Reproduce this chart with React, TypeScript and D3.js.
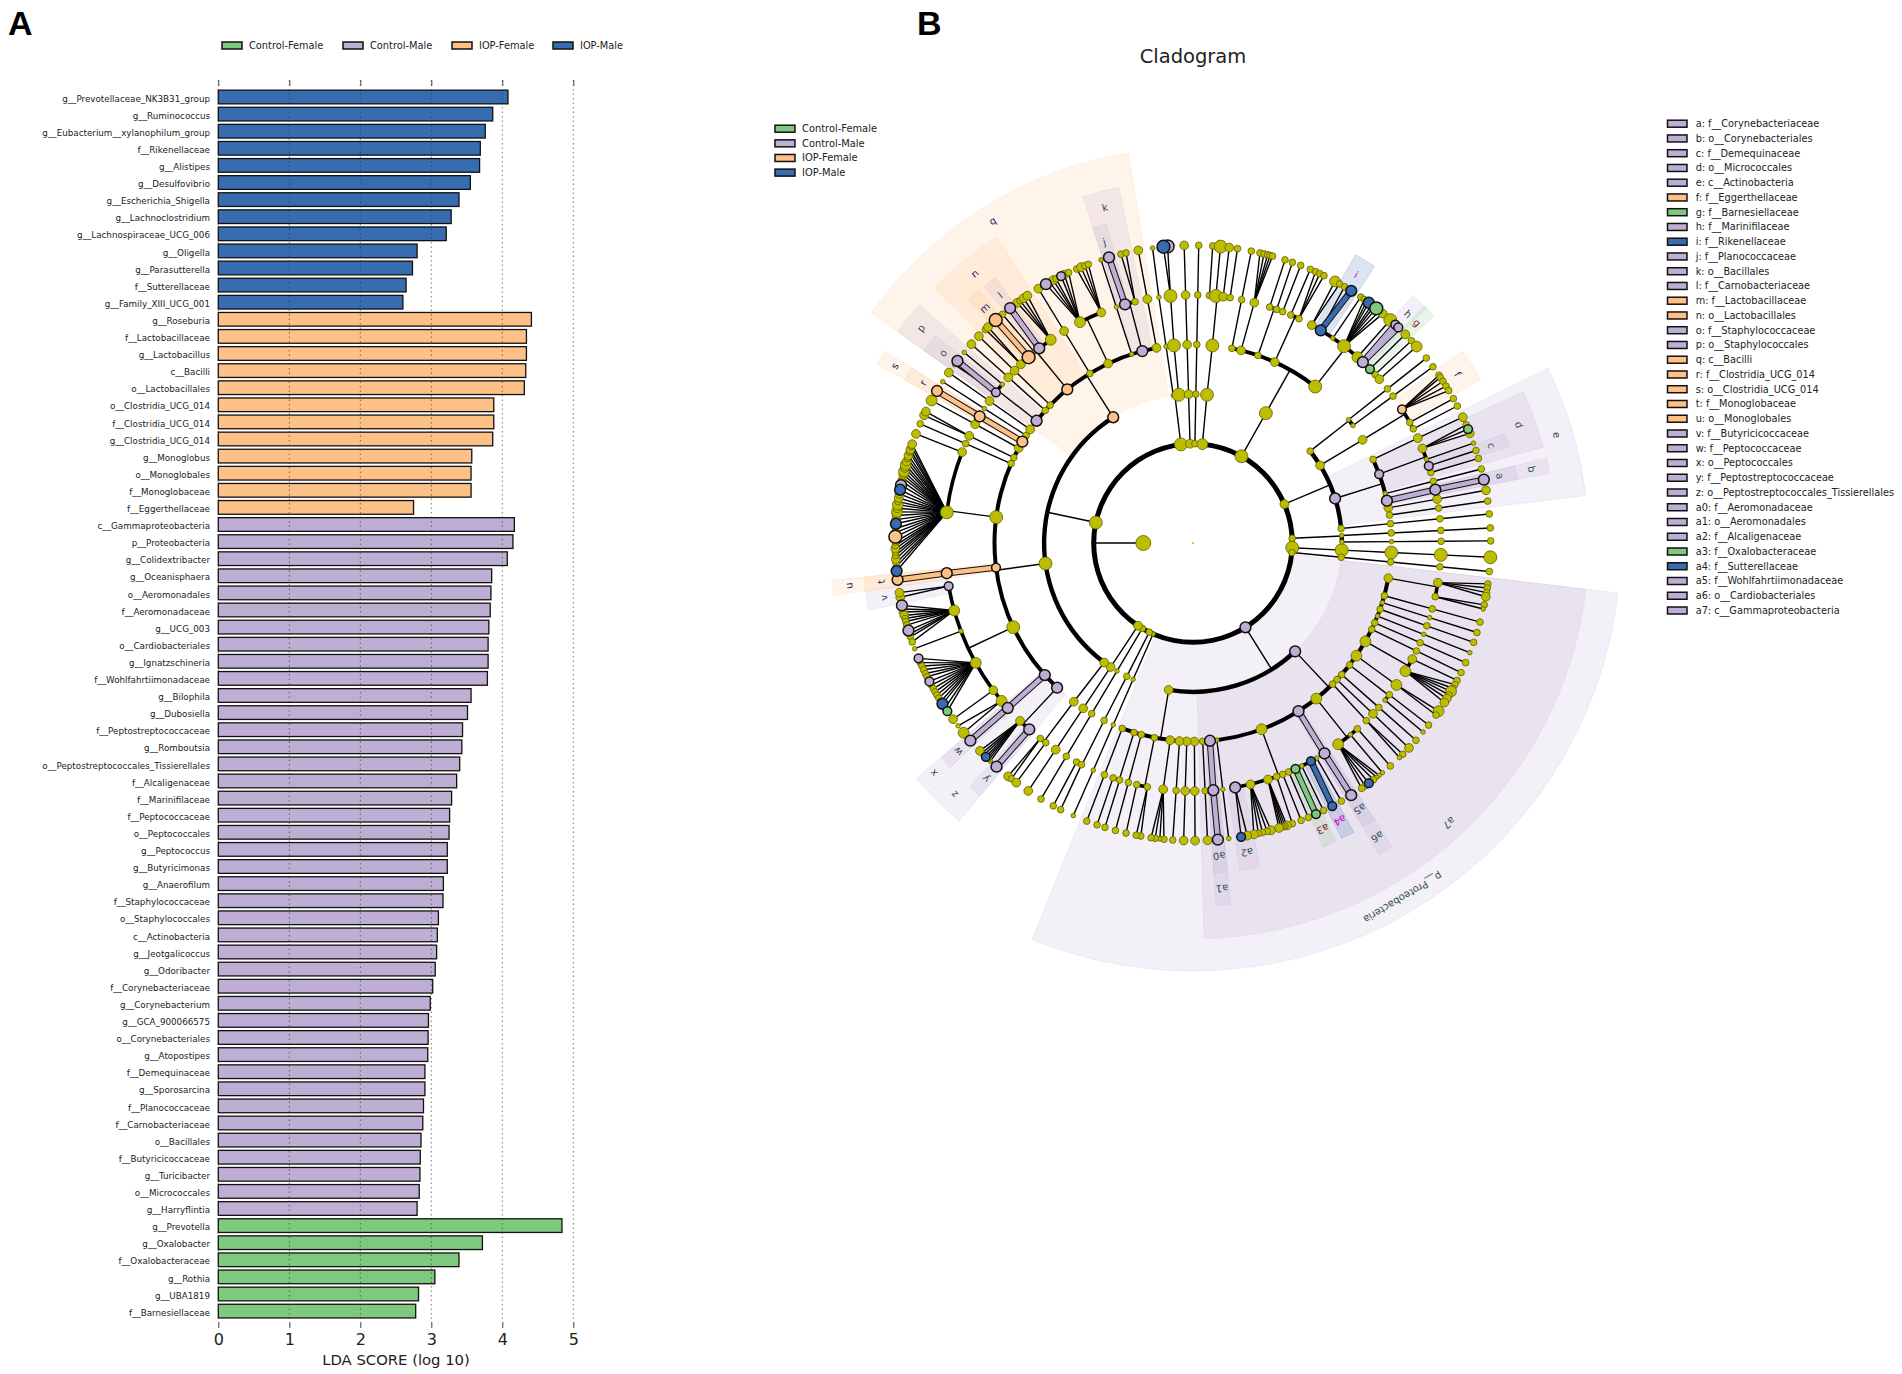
import { useEffect, useRef } from 'react';
import * as d3 from 'd3';

type Group = 'CF' | 'CM' | 'IF' | 'IM';
interface Clade { angle: number; size: number; kids?: Clade[]; mark?: Group; label?: string }

const groupNames: Record<Group, string> = { CF: 'Control-Female', CM: 'Control-Male', IF: 'IOP-Female', IM: 'IOP-Male' };
const groupColors: Record<Group, string> = { CF: '#7fc97f', CM: '#beaed4', IF: '#fdc086', IM: '#386cb0' };
const labelColors: Record<Group, string> = { CF: '#8b1a1a', CM: '#2f4f4f', IF: '#191970', IM: '#cc00cc' };
const legendOrder: Group[] = ['CF', 'CM', 'IF', 'IM'];

const iopMaleNames = ['g__Prevotellaceae_NK3B31_group', 'g__Ruminococcus', 'g__Eubacterium__xylanophilum_group', 'f__Rikenellaceae', 'g__Alistipes', 'g__Desulfovibrio', 'g__Escherichia_Shigella', 'g__Lachnoclostridium', 'g__Lachnospiraceae_UCG_006', 'g__Oligella', 'g__Parasutterella', 'f__Sutterellaceae', 'g__Family_XIII_UCG_001'];
const iopMaleScores = [4.08, 3.865, 3.76, 3.69, 3.68, 3.55, 3.39, 3.28, 3.21, 2.8, 2.735, 2.645, 2.6];
const iopFemaleNames = ['g__Roseburia', 'f__Lactobacillaceae', 'g__Lactobacillus', 'c__Bacilli', 'o__Lactobacillales', 'o__Clostridia_UCG_014', 'f__Clostridia_UCG_014', 'g__Clostridia_UCG_014', 'g__Monoglobus', 'o__Monoglobales', 'f__Monoglobaceae', 'f__Eggerthellaceae'];
const iopFemaleScores = [4.41, 4.34, 4.34, 4.33, 4.31, 3.88, 3.88, 3.865, 3.57, 3.56, 3.56, 2.75];
const controlMaleNames = ['c__Gammaproteobacteria', 'p__Proteobacteria', 'g__Colidextribacter', 'g__Oceanisphaera', 'o__Aeromonadales', 'f__Aeromonadaceae', 'g__UCG_003', 'o__Cardiobacteriales', 'g__Ignatzschineria', 'f__Wohlfahrtiimonadaceae', 'g__Bilophila', 'g__Dubosiella', 'f__Peptostreptococcaceae', 'g__Romboutsia', 'o__Peptostreptococcales_Tissierellales', 'f__Alcaligenaceae', 'f__Marinifilaceae', 'f__Peptococcaceae', 'o__Peptococcales', 'g__Peptococcus', 'g__Butyricimonas', 'g__Anaerofilum', 'f__Staphylococcaceae', 'o__Staphylococcales', 'c__Actinobacteria', 'g__Jeotgalicoccus', 'g__Odoribacter', 'f__Corynebacteriaceae', 'g__Corynebacterium', 'g__GCA_900066575', 'o__Corynebacteriales', 'g__Atopostipes', 'f__Demequinaceae', 'g__Sporosarcina', 'f__Planococcaceae', 'f__Carnobacteriaceae', 'o__Bacillales', 'f__Butyricicoccaceae', 'g__Turicibacter', 'o__Micrococcales', 'g__Harryflintia'];
const controlMaleScores = [4.17, 4.15, 4.07, 3.85, 3.84, 3.83, 3.81, 3.8, 3.8, 3.79, 3.56, 3.51, 3.44, 3.43, 3.4, 3.357, 3.286, 3.258, 3.25, 3.225, 3.225, 3.17, 3.165, 3.1, 3.085, 3.075, 3.055, 3.02, 2.985, 2.96, 2.955, 2.95, 2.91, 2.91, 2.89, 2.88, 2.855, 2.845, 2.84, 2.83, 2.8];
const controlFemaleNames = ['g__Prevotella', 'g__Oxalobacter', 'f__Oxalobacteraceae', 'g__Rothia', 'g__UBA1819', 'f__Barnesiellaceae'];
const controlFemaleScores = [4.84, 3.72, 3.39, 3.05, 2.82, 2.78];
const ldaTicks = [0, 1, 2, 3, 4, 5];

const cladeKey = ['a: f__Corynebacteriaceae', 'b: o__Corynebacteriales', 'c: f__Demequinaceae', 'd: o__Micrococcales', 'e: c__Actinobacteria', 'f: f__Eggerthellaceae', 'g: f__Barnesiellaceae', 'h: f__Marinifilaceae', 'i: f__Rikenellaceae', 'j: f__Planococcaceae', 'k: o__Bacillales', 'l: f__Carnobacteriaceae', 'm: f__Lactobacillaceae', 'n: o__Lactobacillales', 'o: f__Staphylococcaceae', 'p: o__Staphylococcales', 'q: c__Bacilli', 'r: f__Clostridia_UCG_014', 's: o__Clostridia_UCG_014', 't: f__Monoglobaceae', 'u: o__Monoglobales', 'v: f__Butyricicoccaceae', 'w: f__Peptococcaceae', 'x: o__Peptococcales', 'y: f__Peptostreptococcaceae', 'z: o__Peptostreptococcales_Tissierellales', 'a0: f__Aeromonadaceae', 'a1: o__Aeromonadales', 'a2: f__Alcaligenaceae', 'a3: f__Oxalobacteraceae', 'a4: f__Sutterellaceae', 'a5: f__Wohlfahrtiimonadaceae', 'a6: o__Cardiobacteriales', 'a7: c__Gammaproteobacteria'];
const cladeKeyGroups: Group[] = ['CM', 'CM', 'CM', 'CM', 'CM', 'IF', 'CF', 'CM', 'IM', 'CM', 'CM', 'CM', 'IF', 'IF', 'CM', 'CM', 'IF', 'IF', 'IF', 'IF', 'IF', 'CM', 'CM', 'CM', 'CM', 'CM', 'CM', 'CM', 'CM', 'CF', 'IM', 'CM', 'CM', 'CM'];

// angle is in degrees clockwise from east, size is an abundance class 1-5
const n = (angle: number, size: number, kids?: Clade[], mark?: Group, label?: string): Clade => ({ angle, size, kids, mark, label });
// one lineage running straight out to the genus ring
const chain = (angle: number, sizes: number[]): Clade =>
  n(angle, sizes[0], sizes.length > 1 ? [chain(angle, sizes.slice(1))] : undefined);

const gammaOrders = [
  n(10.2, 3, [n(9.2, 3, [n(7.9, 2), n(8.7, 2), n(9.6, 2), n(10.4, 3)]), n(12.5, 2, [n(12, 2), n(12.8, 1)])]),
  chain(15.4, [2, 2, 2]), chain(17.5, [1, 1, 2]), chain(19.5, [2, 2, 2]), chain(21.6, [1, 1, 1]),
  chain(23.7, [2, 2, 2]), chain(25.8, [2, 2, 2]),
  n(29.7, 4, [n(27.9, 3, [n(27.5, 2)]), n(31.1, 4, [n(28.4, 2), n(29.2, 2), n(29.9, 4), n(30.7, 2), n(31.5, 3), n(32.4, 3)])]),
  n(34.6, 4, [n(34.9, 4, [n(34.4, 4), n(35.3, 2)])]),
  n(37.9, 2, [n(37.7, 2, [n(37.7, 2)]), n(39.3, 1, [n(39.4, 1)])]),
  chain(41.5, [2, 2, 2]), chain(43.5, [2, 3, 3]),
  n(45.3, 2, [n(45.7, 2, [n(45.2, 2), n(46.1, 1)])]),
  n(51.6, 4, [chain(48.5, [2, 2]), n(50.6, 1, [n(50.5, 1)]), n(54.2, 4, [n(51.3, 1), n(51.9, 1), n(52.7, 2), n(53.8, 3, undefined, 'IM'), n(54.7, 2), n(55.5, 2)])]),
  n(57.9, 4, [n(58, 4, [n(57.9, 4, undefined, 'CM')], 'CM', 'a5')], 'CM', 'a6'),
  n(69.8, 4, [
    n(60.1, 1, [n(60.1, 2)]),
    n(61.6, 3, [n(62.1, 3, undefined, 'IM')], 'IM', 'a4'),
    n(64, 1, [n(64, 2)]),
    n(65.6, 3, [n(65.6, 3, undefined, 'CF')], 'CF', 'a3'),
    n(67.3, 2, [n(67.2, 2)]),
    n(68.8, 2, [n(68.7, 2)]),
    n(70.3, 2, [n(70.5, 2)]),
    n(72.4, 3, [n(71.6, 3), n(72, 2), n(72.4, 2), n(72.8, 2), n(73.2, 3)]),
    n(76.6, 3, [n(74.8, 3), n(75.6, 2), n(76.5, 2), n(77.3, 2), n(78.2, 3)]),
    n(80.2, 4, [n(79.5, 3), n(80.7, 3, undefined, 'IM')], 'CM', 'a2'),
  ]),
  chain(83.1, [1, 1, 1]),
  n(85.1, 4, [n(85.3, 4, [n(85.2, 4, undefined, 'CM')], 'CM', 'a0')], 'CM', 'a1'),
  chain(87.2, [2, 2, 3]),
];

const secondProteoOrders = [
  chain(89.6, [3, 3, 3]), chain(91.8, [3, 3, 3]), chain(93.9, [3, 2, 2]),
  n(96.6, 3, [n(96.9, 3, [n(95.6, 2), n(96.4, 1), n(97.3, 2), n(98.1, 2)])]),
  n(101.2, 2, [n(100.6, 2, [n(100.1, 2), n(101, 2)]), n(103.1, 2, [n(103, 2)])]),
  chain(105.1, [2, 2, 2]),
  n(107.3, 2, [n(107.2, 2, [n(107.2, 2)]), n(108.8, 2, [n(108.8, 2)])]),
  chain(110.9, [2, 2, 2]),
];

const proteobacteria = n(58.1, 4, [n(46.7, 4, gammaOrders, 'CM', 'a7'), n(99.4, 3, secondProteoOrders)], 'CM', 'p__Proteobacteria');

const smallPhyla = [
  chain(113.7, [1, 1, 1, 1, 1]),
  n(116.1, 2, [n(116.4, 2, [n(116.6, 2, [n(118, 2, [n(118, 2)]), n(116.7, 2, [n(116.4, 2)])])])]),
  chain(120.7, [2, 1, 2, 2, 2]),
  chain(123.6, [3, 3, 3, 3, 3]),
];

const fanLeaves = [
  n(174.6, 4, undefined, 'IM'), n(175.4, 2), n(176.1, 2), n(176.9, 3), n(177.6, 2), n(178.2, 2), n(178.9, 3), n(179.5, 2), n(180.2, 2),
  n(181.2, 5, undefined, 'IF'), n(182, 3), n(182.8, 2), n(183.7, 4, undefined, 'IM'), n(184.5, 3), n(185.3, 3), n(186, 4), n(186.7, 3), n(187.4, 4),
  n(188, 2), n(188.7, 3), n(189.5, 3), n(191.2, 4, undefined, 'CM'), n(190.3, 4, undefined, 'IM'), n(192, 3), n(192.7, 2), n(193.3, 3), n(193.9, 4), n(194.6, 3),
  n(195.2, 4), n(195.9, 3), n(196.5, 2), n(197.1, 3), n(197.8, 2), n(198.3, 3), n(198.9, 2), n(199.4, 3),
];

const clostridiaFamilies = [
  n(140.5, 4, [n(140.4, 4), n(142.1, 1)]),
  n(143.6, 3, [n(143.7, 3)]),
  n(151.1, 4, [
    n(157.2, 3, undefined, 'CM'), n(156.3, 2), n(155.6, 2), n(154.8, 2), n(154, 2), n(153.3, 2), n(152.3, 3, undefined, 'CM'), n(151.5, 2),
    n(150.7, 2), n(150, 2), n(149.3, 2), n(148.6, 2), n(147.9, 2), n(147.3, 4, undefined, 'IM'), n(146.4, 2), n(145.6, 3, undefined, 'CF'),
  ]),
  n(159.2, 1, [n(159.2, 1)]),
  n(164.2, 4, [n(167.9, 4, undefined, 'CM'), n(167.2, 2), n(166.6, 3), n(165.9, 3), n(165.3, 2), n(164.7, 2), n(164, 2), n(162.9, 4, undefined, 'CM'), n(162.2, 2), n(161.6, 2), n(160.6, 2)]),
  n(170, 3, [n(169.5, 3), n(170.4, 3)], 'CM', 'v'),
];

const firmicutesOrders = [
  n(133.2, 4, [
    n(131.3, 4, [n(131.3, 4, undefined, 'CM')], 'CM', 'y'),
    n(134.2, 3, [n(132.9, 1), n(133.3, 1), n(133.7, 1), n(134.1, 3, undefined, 'IM'), n(134.6, 1), n(135.1, 1), n(135.7, 3)]),
  ], 'CM', 'z'),
  n(138.3, 4, [n(138.3, 4, [n(138.4, 4, undefined, 'CM')], 'CM', 'w')], 'CM', 'x'),
  n(154.9, 5, clostridiaFamilies),
  n(172.9, 3, [n(173, 4, [n(172.9, 4, undefined, 'IF')], 'IF', 't')], 'IF', 'u'),
  n(187.5, 5, [n(187.1, 5, fanLeaves), n(201.5, 3, [n(201.5, 3)])]),
  chain(203.6, [2, 2, 2]),
  n(205.5, 2, [n(205.6, 3, [n(205.4, 3), n(206.2, 3)])]),
  chain(208.6, [3, 3, 4]),
  n(210.7, 4, [n(210.7, 4, [n(210.7, 4, undefined, 'IF')], 'IF', 'r')], 'IF', 's'),
  chain(212.8, [2, 1, 1]),
  chain(214.9, [3, 3, 3]),
];

const bacilliOrders = [
  n(218, 4, [n(217.4, 3, [n(216.8, 1), n(217.7, 4, undefined, 'CM')], 'CM', 'o'), n(219.8, 1, [n(219.8, 1)])], 'CM', 'p'),
  chain(221.9, [2, 3, 3]), chain(224, [2, 3, 3]),
  n(230.7, 4, [
    n(226.1, 3, [n(225.8, 2), n(226.5, 3)]),
    n(228.5, 5, [n(228.5, 5, undefined, 'IF')], 'IF', 'm'),
    n(230.3, 1, [n(230.2, 2)]),
    n(231.7, 4, [n(232.1, 4, undefined, 'CM')], 'CM', 'l'),
    n(235, 4, [n(233.8, 3), n(234.5, 2), n(235.3, 3), n(236.2, 3)]),
  ], 'IF', 'n'),
  chain(238.7, [2, 3, 3]),
  n(244.7, 3, [
    n(242.9, 4, [n(240.4, 4, undefined, 'CM'), n(241.2, 2), n(242, 3), n(242.6, 2), n(243.7, 3, undefined, 'CM'), n(244.4, 3), n(245.3, 2)]),
    n(248.3, 3, [n(247, 2), n(247.9, 3), n(248.7, 2), n(249.4, 2)]),
  ]),
  chain(252, [1, 1, 1]),
  n(255.2, 4, [n(254.1, 4, [n(253.6, 4, undefined, 'CM')], 'CM', 'j'), n(256.5, 2, [n(256, 2), n(257, 2)])], 'CM', 'k'),
  chain(259.4, [3, 3, 3]),
];

const firmicutes = n(191.9, 5, [
  n(126.6, 3, [n(126.9, 3, [n(128, 2, [n(128.4, 3), n(127.6, 2)]), n(126.4, 2, [n(126.4, 3)])])]),
  n(172.1, 5, firmicutesOrders),
  n(237.6, 4, bacilliOrders, 'IF', 'q'),
]);

const topPhyla = [
  n(263, 5, [
    n(262.4, 1, [n(262.2, 1, [n(262.1, 1, [n(262.2, 1)])])]),
    n(264.5, 5, [n(264.5, 5, [n(264.8, 5, [n(265.1, 5, undefined, 'CM'), n(264.3, 5, undefined, 'IM')])])]),
  ]),
  chain(268.3, [3, 3, 3, 3, 3]),
  chain(271.1, [2, 2, 2, 2, 2]),
  n(275.4, 4, [n(275.4, 5, [n(275.6, 5, [n(273.8, 2, [n(273.8, 2)]), n(275.3, 5, [n(275.3, 5)]), n(277, 3, [n(277, 3)]), n(278.6, 2, [n(278.6, 2)])])])]),
];

const bacteroidotaOrders = [
  chain(281.3, [2, 2, 2]),
  n(284, 3, [n(284.3, 3, [n(283, 2), n(283.8, 2), n(284.5, 2), n(285, 2), n(285.5, 2)])]),
  n(289.1, 2, [n(288, 2, [n(288, 2)]), n(289.7, 2, [n(289.5, 2)]), n(291.2, 2, [n(291.2, 2)])]),
  n(294.3, 3, [n(293.2, 2, [n(293.2, 2)]), n(295.3, 2, [n(294.3, 2), n(295.2, 2), n(296.1, 2)])]),
  n(308, 5, [
    n(298.6, 3, [n(298.5, 4), n(299.5, 2)]),
    n(301, 4, [n(300.6, 2), n(302.1, 4, undefined, 'IM')], 'IM', 'i'),
    n(304.3, 1, [n(304.3, 2)]),
    n(307.5, 5, [n(305.1, 2), n(305.7, 2), n(306.2, 4, undefined, 'IM'), n(306.9, 2), n(307.4, 2), n(308, 5, undefined, 'CF'), n(308.8, 2), n(309.6, 3)]),
    n(311.5, 4, [n(311.5, 5)]),
    n(313.2, 4, [n(312.8, 3, undefined, 'CM'), n(313.6, 3, undefined, 'CM')], 'CM', 'h'),
    n(315.5, 3, [n(315.5, 3)], 'CF', 'g'),
    n(317.2, 2, [n(317.2, 2)]),
    n(318.7, 3, [n(318.7, 4)]),
  ]),
];
const bacteroidota = n(299.2, 5, [n(299.3, 5, bacteroidotaOrders)]);

const actinoOrders = [
  n(335.1, 2, [n(335, 3, [n(335, 3)])]),
  n(339.7, 3, [
    n(337.6, 3, [n(336.6, 2), n(337.5, 3, undefined, 'CF'), n(338.4, 3)]),
    n(340.3, 1, [n(340.4, 1)]),
    n(341.9, 3, [n(341.9, 2)], 'CM', 'c'),
    n(343.5, 2, [n(343.5, 2)]),
  ], 'CM', 'd'),
  chain(345.6, [1, 2, 2]),
  n(347.7, 4, [n(347.6, 4, [n(347.7, 4, undefined, 'CM')], 'CM', 'a')], 'CM', 'b'),
  chain(349.8, [3, 3, 3]),
  chain(351.9, [2, 2, 2]),
];

const eastPhylum = n(337, 3, [
  n(321.9, 2, [chain(321.6, [1, 2, 2]), chain(323.7, [1, 2, 2])]),
  n(328.6, 3, [n(328.7, 3, [
    n(327.4, 3, [n(325.7, 2), n(326.2, 2), n(327.1, 2), n(328.2, 2), n(329.2, 2)], 'IF', 'f'),
    n(330.9, 2, [n(331, 2)]),
    n(332.6, 2, [n(332.6, 2)]),
  ])]),
  n(342.6, 4, actinoOrders, 'CM', 'e'),
  chain(354.4, [2, 2, 2, 2]),
]);

const eastChains = [
  n(357.3, 2, [chain(357.1, [1, 2, 2, 2]), chain(359.6, [1, 1, 2, 2])]),
  chain(2.75, [5, 5, 5, 5, 5]),
  chain(5.5, [2, 2, 2, 2, 2]),
];

const kingdom = n(180, 6, [...eastChains.slice(1), proteobacteria, ...smallPhyla, firmicutes, ...topPhyla, bacteroidota, eastPhylum, eastChains[0]]);

const rad = (deg: number) => ((deg + 90) * Math.PI) / 180;
const FONT = '"DejaVu Sans", sans-serif';

export default function App() {
  const svgRef = useRef<SVGSVGElement>(null);

  useEffect(() => {
    if (!svgRef.current) return;
    const svg = d3.select(svgRef.current);
    svg.selectAll('*').remove();

    // --- panel letters, title
    svg.append('text').attr('x', 8).attr('y', 35).attr('font-family', 'Liberation Sans, Arial, sans-serif').attr('font-weight', 700).attr('font-size', 34).text('A');
    svg.append('text').attr('x', 917).attr('y', 35).attr('font-family', 'Liberation Sans, Arial, sans-serif').attr('font-weight', 700).attr('font-size', 34).text('B');
    svg.append('text').attr('x', 1193).attr('y', 63).attr('text-anchor', 'middle').attr('font-family', FONT).attr('font-size', 19.5).attr('fill', '#222').text('Cladogram');

    drawBars(svg);
    drawCladogram(svg);
    drawLegends(svg);
  }, []);

  return <svg ref={svgRef} width={1902} height={1374} style={{ position: 'absolute', left: 0, top: 0, background: '#fff' }} />;
}

function drawBars(svg: d3.Selection<SVGSVGElement, unknown, null, undefined>) {
  const rows = [
    ...iopMaleNames.map((name, i) => ({ name, score: iopMaleScores[i], group: 'IM' as Group })),
    ...iopFemaleNames.map((name, i) => ({ name, score: iopFemaleScores[i], group: 'IF' as Group })),
    ...controlMaleNames.map((name, i) => ({ name, score: controlMaleScores[i], group: 'CM' as Group })),
    ...controlFemaleNames.map((name, i) => ({ name, score: controlFemaleScores[i], group: 'CF' as Group })),
  ];
  const x = d3.scaleLinear().domain([0, 5]).range([218.3, 573.3]);
  const y = d3.scaleBand().domain(rows.map(d => d.name + d.group)).range([88.45, 1319.65]).paddingInner(0.2).paddingOuter(0.1);
  const g = svg.append('g');

  g.selectAll('.bar')
    .data(rows)
    .join('rect')
    .attr('class', 'bar')
    .attr('x', x(0))
    .attr('y', d => y(d.name + d.group) || 0)
    .attr('width', d => x(d.score) - x(0))
    .attr('height', y.bandwidth())
    .attr('fill', d => groupColors[d.group])
    .attr('stroke', '#111')
    .attr('stroke-width', 1.3);

  g.selectAll('.grid')
    .data(ldaTicks)
    .join('line')
    .attr('class', 'grid')
    .attr('x1', d => x(d))
    .attr('x2', d => x(d))
    .attr('y1', 80)
    .attr('y2', 1322)
    .attr('stroke', '#333')
    .attr('stroke-opacity', 0.65)
    .attr('stroke-width', 1)
    .attr('stroke-dasharray', '1.5,3');

  g.selectAll('.rowLabel')
    .data(rows)
    .join('text')
    .attr('class', 'rowLabel')
    .attr('x', 210)
    .attr('y', d => (y(d.name + d.group) || 0) + y.bandwidth() / 2 + 1.6)
    .attr('dy', '0.35em')
    .attr('text-anchor', 'end')
    .attr('font-family', FONT)
    .attr('font-size', 8.75)
    .attr('fill', '#222')
    .text(d => d.name);

  const topAxis = g.append('g').attr('transform', 'translate(0,86)').call(d3.axisTop(x).tickValues(ldaTicks).tickSize(6).tickFormat(() => ''));
  topAxis.select('.domain').remove();
  const axis = g.append('g').attr('transform', 'translate(0,1322)').call(d3.axisBottom(x).tickValues(ldaTicks).tickSize(6).tickFormat(d3.format('d') as any));
  axis.select('.domain').remove();
  axis.selectAll('text').attr('font-family', FONT).attr('font-size', 16).attr('fill', '#222').attr('dy', '0.85em');
  axis.selectAll('line').attr('stroke', '#444');
  topAxis.selectAll('line').attr('stroke', '#444');

  g.append('text').attr('x', 396).attr('y', 1365).attr('text-anchor', 'middle').attr('font-family', FONT).attr('font-size', 14.8).attr('fill', '#222').text('LDA SCORE (log 10)');
}

function drawCladogram(svg: d3.Selection<SVGSVGElement, unknown, null, undefined>) {
  const root = d3.hierarchy<Clade>(kingdom, d => d.kids);
  const ring = d3.scaleLinear().domain([0, 5]).range([49.7, 297.7]);
  const wedgeOuter = d3.scaleLinear().domain([1, 4]).range([428, 331]);
  const labelRadius = d3.scaleLinear().domain([1, 4]).range([412, 314]);
  const g = svg.append('g').attr('transform', 'translate(1193,543)');
  const arc = d3.arc<any>();
  const pos = (angle: number, r: number) => d3.pointRadial(rad(angle), r);
  const PAD = 1.2;

  // shaded clades, widest first so the smaller ones stack on top
  const shaded = root.descendants().filter(d => d.data.label);
  const spans = shaded.map(d => {
    const [lo, hi] = d3.extent(d.leaves(), l => l.data.angle) as [number, number];
    return { d, lo: lo - PAD, hi: hi + PAD };
  });
  g.selectAll('.wedge')
    .data(spans)
    .join('path')
    .attr('class', 'wedge')
    .attr('d', s => arc({ innerRadius: ring(s.d.depth), outerRadius: wedgeOuter(s.d.depth), startAngle: rad(s.lo), endAngle: rad(s.hi) }))
    .attr('fill', s => groupColors[s.d.data.mark as Group])
    .attr('fill-opacity', 0.18)
    .attr('stroke', s => groupColors[s.d.data.mark as Group])
    .attr('stroke-opacity', 0.18)
    .attr('stroke-width', 1);

  // full ring of the phyla
  g.append('path').attr('d', arc({ innerRadius: ring(1) - 2.5, outerRadius: ring(1) + 2.5, startAngle: 0, endAngle: 2 * Math.PI })).attr('fill', '#000');

  const thin = g.append('g').attr('stroke', '#000').attr('stroke-width', 1.4).attr('fill', 'none');
  const thick = g.append('g').attr('fill', '#000');
  const arcWidth = d3.scaleLinear().domain([2, 4]).range([4.4, 3.6]);
  const bands: { a: [number, number]; b: [number, number]; color: string }[] = [];

  root.descendants().forEach(d => {
    const kids = d.children;
    if (!kids) return;
    const from = pos(d.data.angle, ring(d.depth));
    const fan = kids.length === 1 || d.depth === 4;
    if (!fan) {
      const to = pos(d.data.angle, ring(d.depth + 1));
      thin.append('line').attr('x1', from[0]).attr('y1', from[1]).attr('x2', to[0]).attr('y2', to[1]);
      if (d.depth > 0) {
        const [lo, hi] = d3.extent(kids, k => k.data.angle) as [number, number];
        const w = arcWidth(d.depth + 1);
        thick.append('path').attr('d', arc({ innerRadius: ring(d.depth + 1) - w / 2, outerRadius: ring(d.depth + 1) + w / 2, startAngle: rad(lo), endAngle: rad(hi) }));
      }
      return;
    }
    kids.forEach(k => {
      const to = pos(k.data.angle, ring(k.depth));
      thin.append('line').attr('x1', from[0]).attr('y1', from[1]).attr('x2', to[0]).attr('y2', to[1]);
      if (d.data.mark && d.data.mark === k.data.mark) bands.push({ a: from, b: to, color: groupColors[d.data.mark] });
    });
  });

  g.selectAll('.bandEdge').data(bands).join('line').attr('class', 'bandEdge')
    .attr('x1', b => b.a[0]).attr('y1', b => b.a[1]).attr('x2', b => b.b[0]).attr('y2', b => b.b[1])
    .attr('stroke', '#111').attr('stroke-width', 6.5);
  g.selectAll('.bandFill').data(bands).join('line').attr('class', 'bandFill')
    .attr('x1', b => b.a[0]).attr('y1', b => b.a[1]).attr('x2', b => b.b[0]).attr('y2', b => b.b[1])
    .attr('stroke', b => b.color).attr('stroke-width', 4.5);

  const radius = d3.scaleLinear().domain([1, 6]).range([2.3, 7.5]);
  const nodes = root.descendants().sort((a, b) => Number(!!a.data.mark) - Number(!!b.data.mark));
  g.selectAll('.node')
    .data(nodes)
    .join('circle')
    .attr('class', 'node')
    .attr('cx', d => pos(d.data.angle, ring(d.depth))[0])
    .attr('cy', d => pos(d.data.angle, ring(d.depth))[1])
    .attr('r', d => radius(d.data.size))
    .attr('fill', d => (d.data.mark ? groupColors[d.data.mark] : '#bdbd00'))
    .attr('stroke', d => (d.data.mark ? '#111' : '#5f5f00'))
    .attr('stroke-width', d => (d.data.mark ? 1.5 : 0.8));

  // the root itself is only a speck
  g.append('circle').attr('r', 1).attr('fill', '#bdbd00');

  g.selectAll('.cladeLabel')
    .data(spans)
    .join('text')
    .attr('class', 'cladeLabel')
    .attr('transform', s => {
      const mid = (s.lo + s.hi) / 2;
      const [px, py] = pos(mid, labelRadius(s.d.depth));
      return `translate(${px},${py}) rotate(${mid + 90})`;
    })
    .attr('text-anchor', 'middle')
    .attr('dy', '0.35em')
    .attr('font-family', FONT)
    .attr('font-size', 10)
    .attr('fill', s => labelColors[s.d.data.mark as Group])
    .text(s => s.d.data.label as string);
}

function drawLegends(svg: d3.Selection<SVGSVGElement, unknown, null, undefined>) {
  const swatch = (x: number, y: number, w: number, h: number, group: Group) =>
    svg.append('rect').attr('x', x).attr('y', y).attr('width', w).attr('height', h).attr('fill', groupColors[group]).attr('stroke', '#111').attr('stroke-width', 1.5);
  const caption = (x: number, y: number, text: string, size: number) =>
    svg.append('text').attr('x', x).attr('y', y).attr('dy', '0.35em').attr('font-family', FONT).attr('font-size', size).attr('fill', '#222').text(text);

  // horizontal legend over the bars
  const topX = d3.scaleOrdinal<Group, number>().domain(legendOrder).range([222, 343, 452, 553]);
  legendOrder.forEach(g => {
    swatch(topX(g), 42, 20, 7, g);
    caption(topX(g) + 27, 45.6, groupNames[g], 9.8);
  });

  // class legend beside the cladogram
  const leftY = d3.scalePoint<Group>().domain(legendOrder).range([128.7, 172.6]);
  legendOrder.forEach(g => {
    swatch(775, (leftY(g) as number) - 3.5, 20, 7, g);
    caption(802, leftY(g) as number, groupNames[g], 9.9);
  });

  // letter key
  const keyY = d3.scalePoint<string>().domain(cladeKey).range([123.7, 610.5]);
  cladeKey.forEach((k, i) => {
    swatch(1667.5, (keyY(k) as number) - 3.5, 19.5, 7, cladeKeyGroups[i]);
    caption(1695.7, keyY(k) as number, k, 9.75);
  });
}
